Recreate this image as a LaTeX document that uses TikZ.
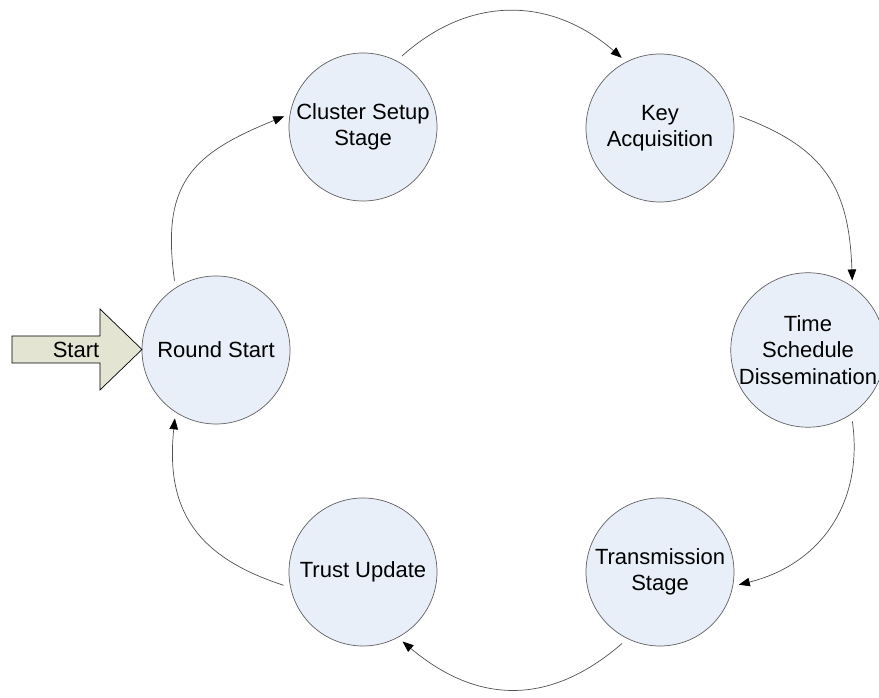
\documentclass[tikz,border=0pt]{standalone}
\usepackage{fontspec}
\setmainfont{Liberation Sans}
\usetikzlibrary{arrows.meta}

\definecolor{stagefill}{RGB}{233,239,248}
\definecolor{stageline}{RGB}{96,96,96}
\definecolor{startfill}{RGB}{227,228,210}
\definecolor{flowline}{RGB}{80,80,80}

\begin{document}
\begin{tikzpicture}[x=1pt,y=1pt,
  stage/.style={circle,draw=stageline,fill=stagefill,line width=0.7pt,
    minimum size=148pt,inner sep=0pt,align=center,
    font=\fontsize{22}{26.5}\selectfont},
  flow/.style={draw=flowline,line width=0.7pt,
    -{Triangle[length=11pt,width=8.5pt,color=black]},shorten <=7pt,shorten >=6pt},
  label/.style={font=\fontsize{22}{26.5}\selectfont,inner sep=0pt}]

\useasboundingbox (0,0) rectangle (879,698);

% stages of one round
\node[stage] (rs) at (216,348) {Round Start};
\node[stage] (cs) at (363,571) {Cluster Setup\\Stage};
\node[stage] (ka) at (660,570) {Key\\Acquisition};
\node[stage] (ts) at (808,348) {Time\\Schedule\\Dissemination};
\node[stage] (tr) at (660,126) {Transmission\\Stage};
\node[stage] (tu) at (363,126) {Trust Update};

% entry arrow
\draw[fill=startfill,line width=0.7pt]
  (12,335) -- (100,335) -- (100,308) -- (142,348.5) -- (100,389)
  -- (100,362) -- (12,362) -- cycle;
\node[label] (start) at (76,348.5) {Start};

% transitions
\draw[flow] (rs.123) to[out=98,in=202,looseness=1.3] (cs.170);
\draw[flow] (cs.63) to[out=42,in=139,looseness=1.1] (ka.117);
\draw[flow] (ka.11) to[out=-20,in=92,looseness=1.2] (ts.55);
\draw[flow] (ts.-56) to[out=-82,in=14,looseness=1.1] (tr.-11);
\draw[flow] (tr.-116) to[out=221,in=320,looseness=1.15] (tu.-62);
\draw[flow] (tu.192) to[out=162,in=264,looseness=1.2] (rs.237);
\end{tikzpicture}
\end{document}
